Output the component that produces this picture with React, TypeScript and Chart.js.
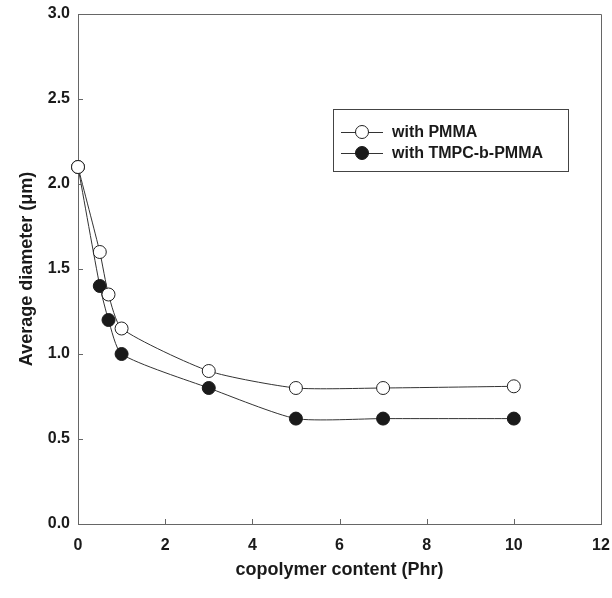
import React, { useEffect, useRef } from "react";
import { Chart, registerables } from "chart.js";

Chart.register(...registerables);

const contentPhr = [0, 0.5, 0.7, 1, 3, 5, 7, 10];
const withPMMA = [2.1, 1.6, 1.35, 1.15, 0.9, 0.8, 0.8, 0.81];
const withTMPC = [2.1, 1.4, 1.2, 1.0, 0.8, 0.62, 0.62, 0.62];
const seriesNames = ["with PMMA", "with TMPC-b-PMMA"];
const xTicks = [0, 2, 4, 6, 8, 10, 12];
const yTicks = [0, 0.5, 1.0, 1.5, 2.0, 2.5, 3.0];

const FONT = "'Liberation Sans', Arial, sans-serif";

const framePlugin = {
  id: "frameTicks",
  afterDatasetsDraw(chart: any) {
    const { ctx, chartArea } = chart;
    const { left, right, top, bottom } = chartArea;
    const xs = chart.scales.x;
    const ys = chart.scales.y;
    ctx.save();
    ctx.strokeStyle = "#666";
    ctx.lineWidth = 1;
    ctx.beginPath();
    ctx.moveTo(left + 0.5, top + 0.5);
    ctx.lineTo(right + 0.5, top + 0.5);
    ctx.lineTo(right + 0.5, bottom + 0.5);
    ctx.stroke();
    ctx.beginPath();
    xTicks.forEach((v) => {
      const px = Math.round(xs.getPixelForValue(v)) + 0.5;
      ctx.moveTo(px, bottom);
      ctx.lineTo(px, bottom - 5);
    });
    yTicks.forEach((v) => {
      const py = Math.round(ys.getPixelForValue(v)) + 0.5;
      ctx.moveTo(left, py);
      ctx.lineTo(left + 5, py);
    });
    ctx.stroke();

    // legend
    const bx = 333, by = 109, bw = 235, bh = 62;
    ctx.strokeStyle = "#444";
    ctx.strokeRect(bx + 0.5, by + 0.5, bw, bh);
    const rows = [132, 153];
    chart.data.datasets.forEach((ds: any, i: number) => {
      const y = rows[i];
      ctx.strokeStyle = ds.borderColor;
      ctx.lineWidth = 1;
      ctx.beginPath();
      ctx.moveTo(341, y + 0.5);
      ctx.lineTo(383, y + 0.5);
      ctx.stroke();
      ctx.beginPath();
      ctx.arc(362, y, 6.5, 0, Math.PI * 2);
      ctx.fillStyle = ds.pointBackgroundColor;
      ctx.fill();
      ctx.strokeStyle = ds.pointBorderColor;
      ctx.stroke();
      ctx.fillStyle = "#1a1a1a";
      ctx.font = `bold 16px ${FONT}`;
      ctx.textBaseline = "middle";
      ctx.textAlign = "left";
      ctx.fillText(ds.label, 392, y + 1);
    });
    ctx.restore();
  },
};

export default function App() {
  const ref = useRef<HTMLCanvasElement>(null);
  useEffect(() => {
    document.body.style.margin = "0";
    const common = {
      borderColor: "#333",
      borderWidth: 1,
      pointBorderWidth: 1,
      pointRadius: 6.5,
      tension: 0.2,
      fill: false,
      clip: false,
    };
    const chart = new Chart(ref.current!, {
      type: "line",
      data: {
        datasets: [
          {
            ...common,
            label: seriesNames[0],
            data: contentPhr.map((x, i) => ({ x, y: withPMMA[i] })),
            pointBackgroundColor: "#fff",
            pointBorderColor: "#222",
          },
          {
            ...common,
            label: seriesNames[1],
            data: contentPhr.map((x, i) => ({ x, y: withTMPC[i] })),
            pointBackgroundColor: "#1a1a1a",
            pointBorderColor: "#1a1a1a",
          },
        ],
      },
      options: {
        animation: false,
        responsive: false,
        layout: { padding: { top: 14, right: 11, left: 0, bottom: 0 } },
        plugins: { legend: { display: false }, tooltip: { enabled: false } },
        scales: {
          x: {
            type: "linear",
            min: 0,
            max: 12,
            afterFit: (s: any) => {
              s.height = 74;
              s.paddingLeft = 0;
              s.paddingRight = 0;
            },
            afterBuildTicks: (s: any) => { s.ticks = xTicks.map((v) => ({ value: v })); },
            grid: { display: false, drawTicks: false },
            border: { display: true, color: "#666", width: 1 },
            ticks: {
              padding: 12,
              color: "#1a1a1a",
              font: { family: FONT, size: 16, weight: "bold" },
              callback: (v: any) => String(v),
            },
            title: {
              display: true,
              text: "copolymer content (Phr)",
              color: "#1a1a1a",
              font: { family: FONT, size: 18, weight: "bold" },
              padding: { top: 0, bottom: 17 },
            },
          },
          y: {
            type: "linear",
            min: 0,
            max: 3,
            afterFit: (s: any) => {
              s.width = 78;
              s.paddingTop = 0;
              s.paddingBottom = 0;
            },
            afterBuildTicks: (s: any) => { s.ticks = yTicks.map((v) => ({ value: v })); },
            grid: { display: false, drawTicks: false },
            border: { display: true, color: "#666", width: 1 },
            ticks: {
              padding: 8,
              color: "#1a1a1a",
              font: { family: FONT, size: 16, weight: "bold" },
              callback: (v: any) => Number(v).toFixed(1),
            },
            title: {
              display: true,
              text: "Average diameter (μm)",
              color: "#1a1a1a",
              font: { family: FONT, size: 18, weight: "bold" },
              padding: { top: 16, bottom: 0 },
            },
          },
        },
      },
      plugins: [framePlugin],
    } as any);
    return () => chart.destroy();
  }, []);
  return (
    <div style={{ width: 612, height: 598 }}>
      <canvas ref={ref} width={612} height={598} />
    </div>
  );
}
